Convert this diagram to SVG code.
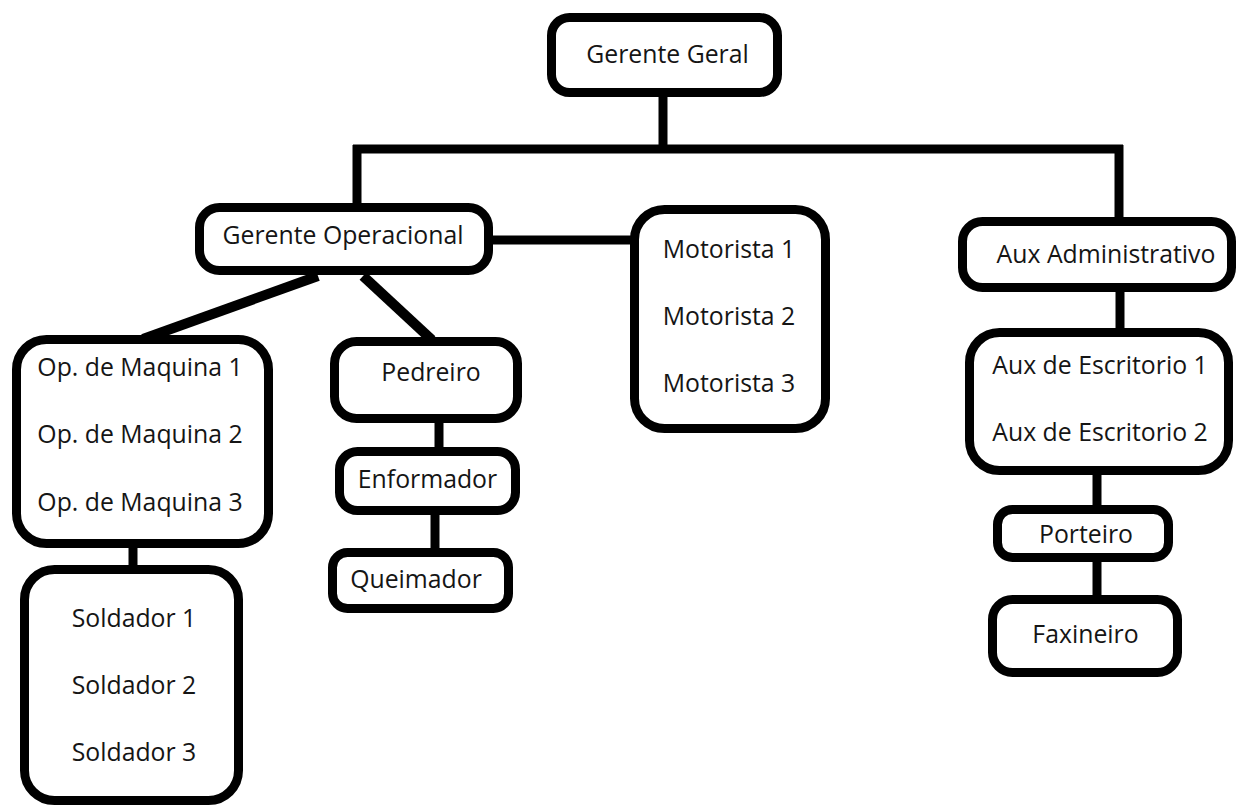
<svg xmlns="http://www.w3.org/2000/svg" width="1239" height="807" viewBox="0 0 1239 807">
<style>
.box{fill:#fff;stroke:#000;stroke-width:9}
.c{stroke:#000;stroke-width:9;fill:none;stroke-linecap:butt}
text{font-family:"Open Sans","Noto Sans",sans-serif;font-size:24.8px;fill:#151515;text-anchor:middle}
</style>
<rect width="1239" height="807" fill="#fff"/>
<g id="connectors">
<line class="c" x1="663" y1="95" x2="663" y2="149"/>
<line class="c" x1="353" y1="149" x2="1123" y2="149"/>
<line class="c" x1="357" y1="145" x2="357" y2="208"/>
<line class="c" x1="1119" y1="145" x2="1119" y2="222"/>
<line class="c" x1="490" y1="240" x2="635" y2="240"/>
<line class="c" style="stroke-width:10" x1="318" y1="276" x2="143" y2="339"/>
<line class="c" style="stroke-width:10" x1="363" y1="276" x2="432" y2="340"/>
<line class="c" x1="133" y1="546" x2="133" y2="570"/>
<line class="c" x1="439" y1="421" x2="439" y2="452"/>
<line class="c" x1="435" y1="513" x2="435" y2="553"/>
<line class="c" x1="1120" y1="290" x2="1120" y2="333"/>
<line class="c" x1="1097" y1="473" x2="1097" y2="510"/>
<line class="c" x1="1097" y1="560" x2="1097" y2="600"/>
</g>
<g id="gerente-geral"><rect class="box" x="551.5" y="17.5" width="226" height="75" rx="18"/><text x="667.5" y="63">Gerente Geral</text></g>
<g id="gerente-operacional"><rect class="box" x="199.5" y="207.5" width="289" height="63" rx="20"/><text x="343" y="244">Gerente Operacional</text></g>
<g id="motoristas"><rect class="box" x="634.5" y="209.5" width="191" height="219" rx="30"/><text x="729" y="258">Motorista 1</text><text x="729" y="325">Motorista 2</text><text x="729" y="392">Motorista 3</text></g>
<g id="aux-administrativo"><rect class="box" x="962.5" y="221.5" width="269" height="66" rx="20"/><text x="1106" y="263">Aux Administrativo</text></g>
<g id="op-maquina"><rect class="box" x="16.5" y="339.5" width="252" height="204" rx="30"/><text x="140" y="376">Op. de Maquina 1</text><text x="140" y="443">Op. de Maquina 2</text><text x="140" y="511">Op. de Maquina 3</text></g>
<g id="pedreiro"><rect class="box" x="334.5" y="341.5" width="183" height="77" rx="22"/><text x="431" y="381">Pedreiro</text></g>
<g id="enformador"><rect class="box" x="339.5" y="451.5" width="176" height="59" rx="18"/><text x="427.5" y="488">Enformador</text></g>
<g id="queimador"><rect class="box" x="332.5" y="552.5" width="176" height="56" rx="15"/><text x="416" y="588">Queimador</text></g>
<g id="soldadores"><rect class="box" x="24.5" y="569.5" width="214" height="231" rx="30"/><text x="134" y="627">Soldador 1</text><text x="134" y="694">Soldador 2</text><text x="134" y="761">Soldador 3</text></g>
<g id="aux-escritorio"><rect class="box" x="969.5" y="332.5" width="259" height="138" rx="30"/><text x="1100" y="374">Aux de Escritorio 1</text><text x="1100" y="441">Aux de Escritorio 2</text></g>
<g id="porteiro"><rect class="box" x="997.5" y="509.5" width="171" height="48" rx="15"/><text x="1086" y="543">Porteiro</text></g>
<g id="faxineiro"><rect class="box" x="992.5" y="599.5" width="185" height="73" rx="20"/><text x="1085.5" y="643">Faxineiro</text></g>
</svg>
